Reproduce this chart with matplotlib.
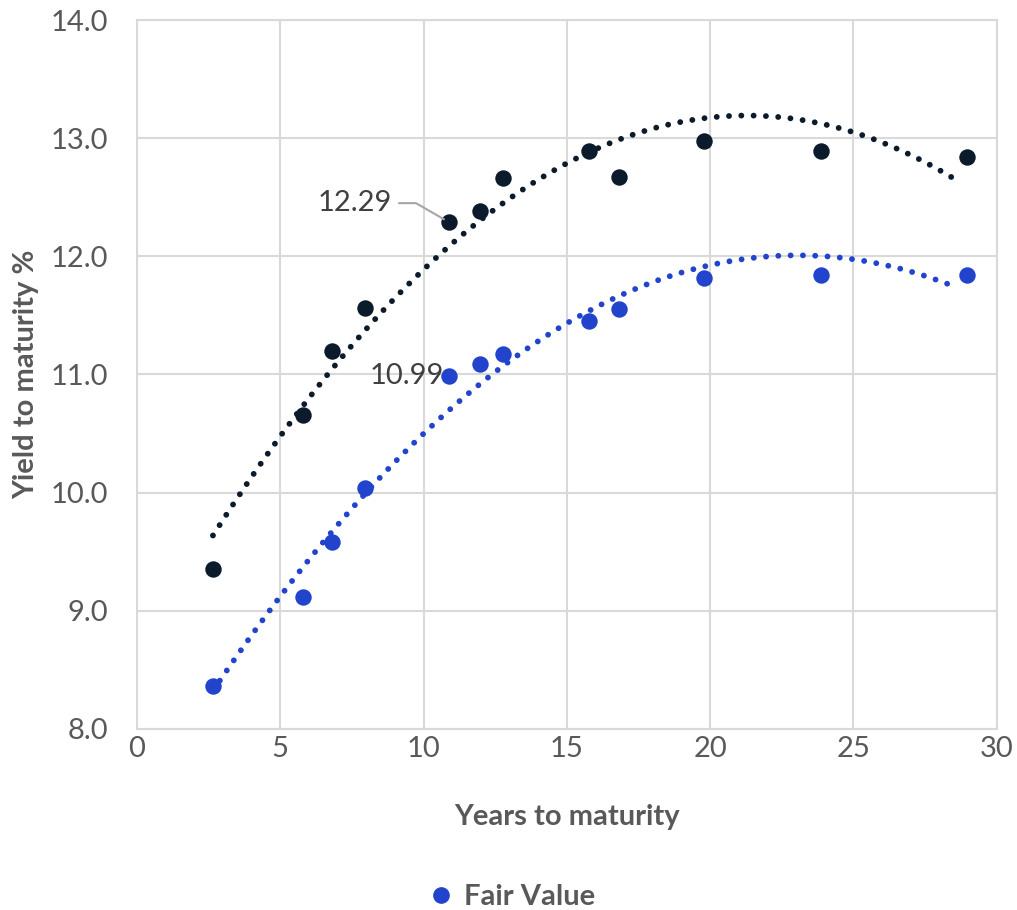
import numpy as np
import matplotlib
matplotlib.use("Agg")
import matplotlib.pyplot as plt
from matplotlib.lines import Line2D

plt.rcParams['font.family'] = ['Lato', 'DejaVu Sans']

years = [2.65, 5.79, 6.80, 7.95, 10.88, 11.96, 12.77, 15.77, 16.81, 19.78, 23.86, 28.95]
ytm_market = [9.35, 10.66, 11.20, 11.56, 12.29, 12.38, 12.66, 12.89, 12.67, 12.98, 12.89, 12.84]
ytm_fair = [8.36, 9.12, 9.58, 10.04, 10.99, 11.09, 11.17, 11.45, 11.55, 11.82, 11.84, 11.84]

xticks = [0, 5, 10, 15, 20, 25, 30]
yticks = [8.0, 9.0, 10.0, 11.0, 12.0, 13.0, 14.0]

c_dark = '#0B1B2B'
c_blue = '#2244CC'
c_text = '#595959'
c_grid = '#D9D9D9'

fig = plt.figure(figsize=(10.17, 9.10), dpi=100)
ax = fig.add_axes([0.1347, 0.199, 0.980 - 0.1347, 0.978 - 0.199])

x = np.array(years)
xs = np.linspace(x.min(), x.max() - 0.35, 400)
for vals, col in [(ytm_market, c_dark), (ytm_fair, c_blue)]:
    coef = np.polyfit(x, np.array(vals), 2)
    ax.plot(xs, np.polyval(coef, xs), color=col, lw=4.2,
            linestyle=(0, (0.01, 2.1)), dash_capstyle='round', zorder=2)
    ax.scatter(x, vals, s=140, color=col, zorder=3, linewidths=0)

ax.set_xlim(0, 30)
ax.set_ylim(8, 14)
ax.set_xticks(xticks)
ax.set_yticks(yticks)
ax.set_yticklabels([f'{v:.1f}' for v in yticks])
ax.grid(True, color=c_grid, lw=1.5)
ax.set_axisbelow(True)
for s in ax.spines.values():
    s.set_color(c_grid)
    s.set_linewidth(1.5)
ax.tick_params(length=0, labelsize=21, colors=c_text)
ax.tick_params(axis='y', pad=21)
ax.tick_params(axis='x', pad=5)

ax.set_xlabel('Years to maturity', fontsize=21, fontweight='bold', color=c_text, labelpad=30)
ax.set_ylabel('Yield to maturity %', fontsize=21, fontweight='bold', color=c_text, labelpad=8)

ax.annotate('12.29', xy=(years[4], ytm_market[4]), xytext=(8.9, 12.45),
            fontsize=21, color='#404040', ha='right', va='center',
            arrowprops=dict(arrowstyle='-', color='#A6A6A6', lw=1.5,
                            connectionstyle='angle,angleA=0,angleB=150,rad=0',
                            shrinkA=3, shrinkB=4))
ax.text(years[4] - 0.15, ytm_fair[4], '10.99', fontsize=21, color='#404040',
        ha='right', va='center')

handle = Line2D([], [], marker='o', color=c_blue, linestyle='none', markersize=11)
fig.legend([handle], ['Fair Value'], loc='center', bbox_to_anchor=(0.495, 0.014),
           frameon=False, handletextpad=-0.2,
           prop={'size': 21, 'weight': 'bold'}, labelcolor=c_text)

fig.savefig('out.png', dpi=100)
